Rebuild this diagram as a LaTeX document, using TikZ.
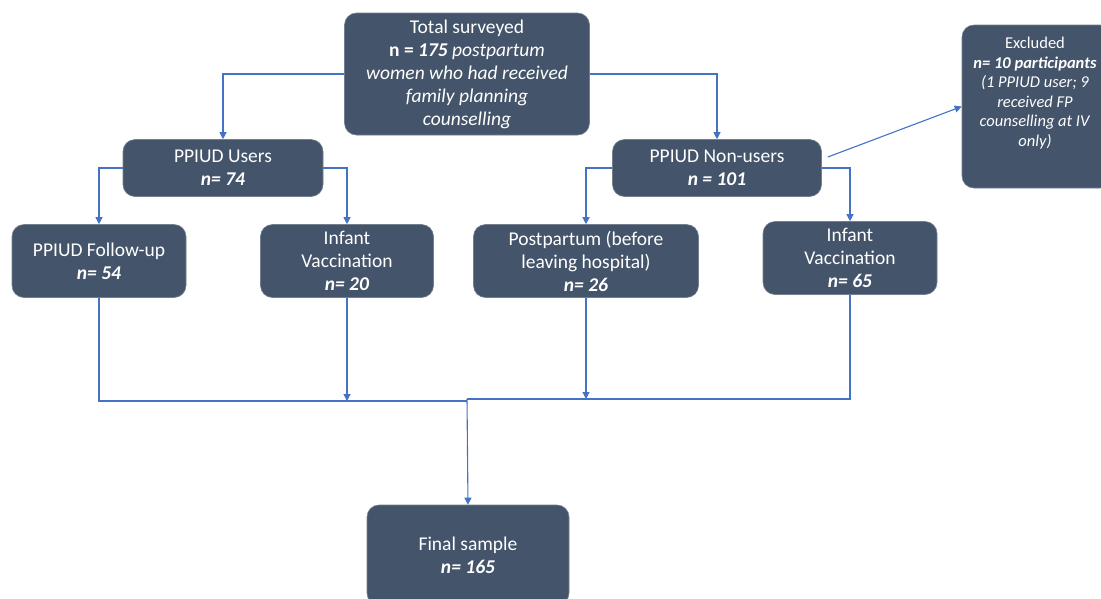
\documentclass[tikz,border=0pt]{standalone}
\usepackage{fontspec}
\setmainfont{Carlito}
\usetikzlibrary{arrows.meta}
\definecolor{boxfill}{HTML}{44546A}
\definecolor{linkblue}{HTML}{4472C4}
\begin{document}
\begin{tikzpicture}[x=1pt,y=-1pt,>={Triangle[width=7pt,length=7pt]},
  box/.style={draw=boxfill!75!white,line width=0.6pt,fill=boxfill,rounded corners=12pt,
    text=white,align=center,inner sep=0pt,font=\fontsize{19.5}{23}\selectfont},
  small/.style={text=white,align=center,inner sep=0pt,font=\fontsize{16.5}{19.5}\selectfont},
  link/.style={draw=linkblue,line width=1.1pt}]
\useasboundingbox (0,0) rectangle (1101,598);
\clip (0,0) rectangle (1101,598);
% boxes
\node[box,minimum width=245,minimum height=122] (total) at (467,74)
  {Total surveyed\\ \textbf{n = \textit{175}} \textit{postpartum}\\ \textit{women who had received}\\ \textit{family planning}\\ \textit{counselling}};
\node[box,minimum width=200,minimum height=57] (users) at (223,168) {PPIUD Users\\ \textbf{\textit{n= 74}}};
\node[box,minimum width=209,minimum height=57] (nonusers) at (717,168) {PPIUD Non-users\\ \textbf{\textit{n = 101}}};
\node[box,minimum width=150,minimum height=163] (excl) at (1037,106.5) {};
\node[small] (excltext) at (1035,93)
  {Excluded\\ \textbf{\textit{n= 10 participants}}\\ \textit{(1 PPIUD user; 9}\\ \textit{received FP}\\ \textit{counselling at IV}\\ \textit{only)}};
\node[box,minimum width=174,minimum height=73] (follow) at (99,261) {PPIUD Follow-up\\ \textbf{\textit{n= 54}}};
\node[box,minimum width=173,minimum height=73] (infl) at (347,261) {Infant\\ Vaccination\\ \textbf{\textit{n= 20}}};
\node[box,minimum width=225,minimum height=73] (post) at (586,261) {Postpartum (before\\ leaving hospital)\\ \textbf{\textit{n= 26}}};
\node[box,minimum width=174,minimum height=73] (infr) at (850,258) {Infant\\ Vaccination\\ \textbf{\textit{n= 65}}};
\node[box,minimum width=202,minimum height=100] (final) at (468,555) {Final sample\\ \textbf{\textit{n= 165}}};
% connectors
\coordinate (jl) at (467,401);
\coordinate (jr) at (467,399);
\draw[link,->] (total.west) -| (users.north);
\draw[link,->] (total.east) -| (nonusers.north);
\draw[link,->] (users.west) -| (follow.north);
\draw[link,->] (users.east) -| (infl.north);
\draw[link,->] (nonusers.west) -| (post.north);
\draw[link,->] (nonusers.east) -| (infr.north);
\draw[link,->] ([xshift=6pt,yshift=11pt]nonusers.east) -- (excl.west);
\draw[link] (follow.south) |- (jl);
\draw[link,->] (infl.south) -- (infl.south |- jl);
\draw[link] (infr.south) |- (jr);
\draw[link,->] (post.south) -- (post.south |- jr);
\draw[link,->] (jr) -- (final.north);
\end{tikzpicture}
\end{document}
